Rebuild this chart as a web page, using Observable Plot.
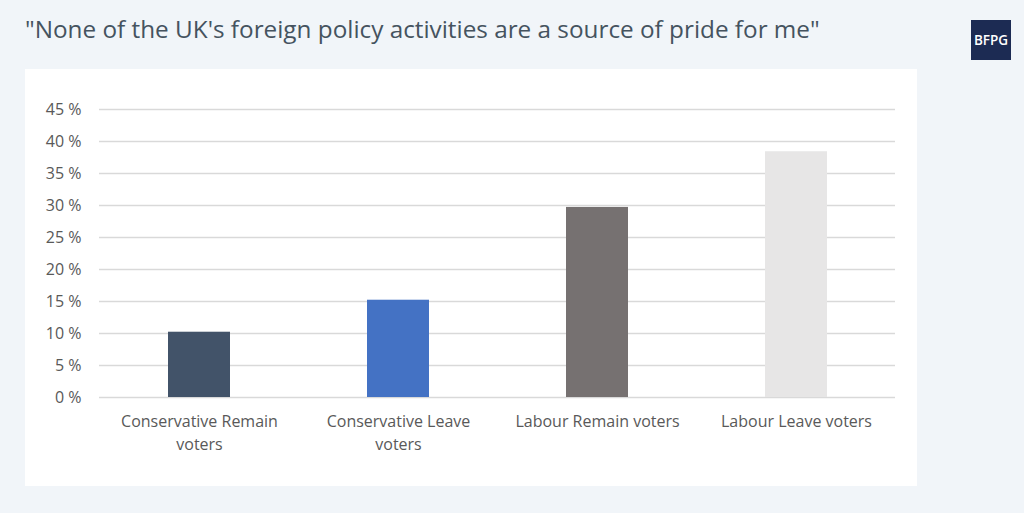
<!DOCTYPE html>
<html>
<head>
<meta charset="utf-8">
<script src="https://cdn.jsdelivr.net/npm/d3@7"></script>
<script src="https://cdn.jsdelivr.net/npm/@observablehq/plot@0.6"></script>
<style>
  html, body { margin: 0; padding: 0; }
  body { width: 1024px; height: 513px; background: #f1f5f9; position: relative; overflow: hidden; font-family: "Open Sans", sans-serif; }
  #title { position: absolute; left: 25px; top: 12px; font-size: 24.3px; font-weight: 500; color: #45535f; white-space: nowrap; line-height: 1.362; }
  #logo { position: absolute; left: 971px; top: 20px; width: 40px; height: 40px; background: #1c2b53; color: #fff; font-weight: 600; font-size: 13.5px; display: flex; align-items: center; justify-content: center; }
  #panel { position: absolute; left: 25px; top: 69px; width: 892px; height: 417px; background: #fff; }
</style>
</head>
<body>
<div id="title">"None of the UK's foreign policy activities are a source of pride for me"</div>
<div id="logo">BFPG</div>
<div id="panel"></div>
<script>
const categories = ["Conservative Remain voters", "Conservative Leave voters", "Labour Remain voters", "Labour Leave voters"];
const tickLabels = ["Conservative Remain\nvoters", "Conservative Leave\nvoters", "Labour Remain voters", "Labour Leave voters"];
const values = [10.2, 15.2, 29.7, 38.4];
const colors = ["#425369", "#4472c4", "#767171", "#e7e6e6"];
const yTicks = [0, 5, 10, 15, 20, 25, 30, 35, 40, 45];

const data = categories.map((c, i) => ({category: c, value: values[i], color: colors[i]}));
const labelOf = new Map(categories.map((c, i) => [c, tickLabels[i]]));

const chart = Plot.plot({
  width: 892,
  height: 417,
  marginLeft: 74,
  marginRight: 22,
  marginTop: 40,
  marginBottom: 89,
  style: {fontFamily: "Open Sans, sans-serif", fontSize: "16px", color: "#595959", background: "transparent"},
  x: {domain: categories, paddingInner: 0.69, paddingOuter: 0.345, label: null},
  y: {domain: [0, 45], label: null},
  marks: [
    Plot.ruleY(yTicks, {stroke: "#d9d9d9", strokeWidth: 1.5}),
    Plot.barY(data, {x: "category", y: "value", fill: "color"}),
    Plot.axisY({ticks: yTicks, tickSize: 0, tickPadding: 18, tickFormat: d => d + " %", label: null, fill: "#595959", fontSize: 16}),
    Plot.axisX({tickSize: 0, tickPadding: 13, tickFormat: d => labelOf.get(d), label: null, fill: "#595959", fontSize: 16, lineHeight: 1.44, lineAnchor: "top"})
  ]
});
document.getElementById("panel").appendChild(chart);
</script>
</body>
</html>
